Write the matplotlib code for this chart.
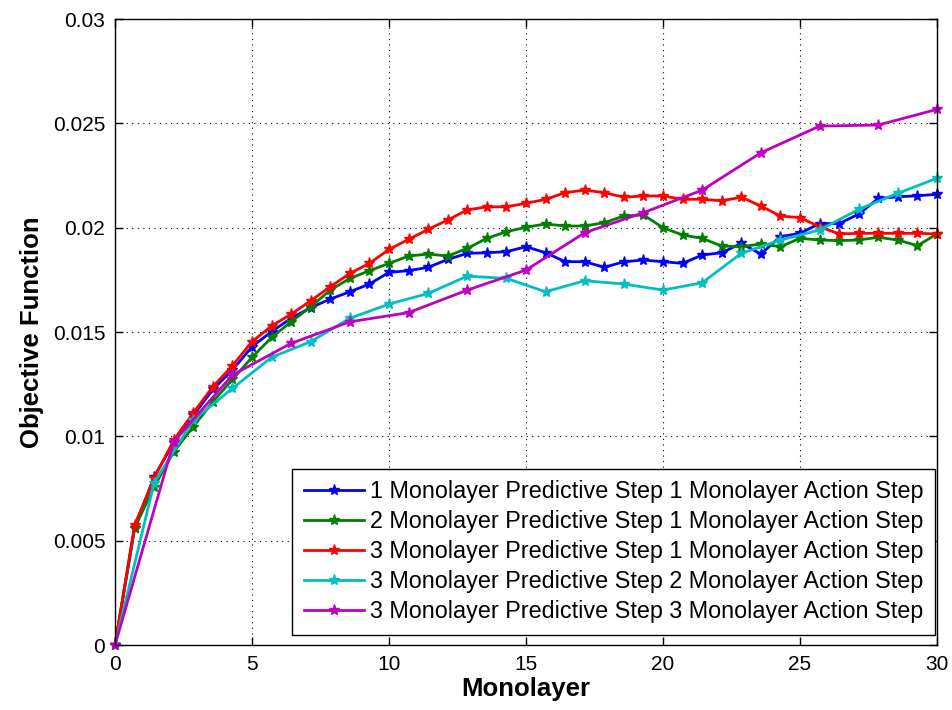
import numpy as np
import matplotlib
matplotlib.use("Agg")
import matplotlib.pyplot as plt

# ---------- DATA ----------
n_steps = 42
x_full = np.arange(0, n_steps + 1) * 30 / n_steps      # action step 1
x_two = np.arange(0, n_steps + 1, 2) * 30 / n_steps     # action step 2
x_three = np.arange(0, n_steps + 1, 3) * 30 / n_steps   # action step 3

p1_a1 = [0, 0.00559, 0.00807, 0.0097, 0.0110, 0.01225, 0.01318, 0.0143, 0.01502, 0.01566,
         0.01617, 0.01658, 0.01693, 0.0173, 0.01786, 0.01794, 0.0181, 0.01848, 0.01877, 0.0188,
         0.01885, 0.01909, 0.0188, 0.01837, 0.01837, 0.0181, 0.01837, 0.01845, 0.01837, 0.01829,
         0.01869, 0.0188, 0.01925, 0.01874, 0.01957, 0.01973, 0.0202, 0.0202, 0.02065, 0.0214,
         0.02148, 0.02153, 0.0216]
p2_a1 = [0, 0.0056, 0.00759, 0.00926, 0.01046, 0.01166, 0.01273, 0.01379, 0.01474, 0.01549,
         0.01621, 0.01701, 0.01757, 0.01794, 0.01829, 0.01864, 0.01874, 0.01864, 0.01901, 0.01949,
         0.01981, 0.02002, 0.02018, 0.02008, 0.02008, 0.02024, 0.02056, 0.02061, 0.0200, 0.01965,
         0.01949, 0.01912, 0.01909, 0.01922, 0.01909, 0.01949, 0.01941, 0.01938, 0.01941, 0.01954,
         0.01941, 0.01914, 0.0197]
p3_a1 = [0, 0.00575, 0.0080, 0.00982, 0.01113, 0.01238, 0.01339, 0.01454, 0.01529, 0.01586,
         0.0165, 0.01717, 0.01781, 0.01829, 0.01896, 0.01944, 0.01992, 0.02037, 0.02085, 0.0210,
         0.0210, 0.02117, 0.02136, 0.02168, 0.0218, 0.02168, 0.02146, 0.02152, 0.02152, 0.02136,
         0.02136, 0.02129, 0.02146, 0.02104, 0.02056, 0.02048, 0.02005, 0.0197, 0.01973, 0.01973,
         0.01973, 0.01973, 0.0197]
p3_a2 = [0, 0.00778, 0.01078, 0.0123, 0.01379, 0.01454, 0.01566, 0.01634, 0.01685, 0.01768,
         0.01757, 0.01693, 0.01746, 0.0173, 0.01701, 0.01736, 0.01877, 0.01941, 0.01989, 0.02088,
         0.02165, 0.02237]
p3_a3 = [0, 0.00974, 0.01294, 0.01446, 0.01549, 0.01593, 0.01701, 0.01797, 0.01976, 0.02072,
         0.0218, 0.02359, 0.02487, 0.02492, 0.02567]

labels = ["1 Monolayer Predictive Step 1 Monolayer Action Step",
          "2 Monolayer Predictive Step 1 Monolayer Action Step",
          "3 Monolayer Predictive Step 1 Monolayer Action Step",
          "3 Monolayer Predictive Step 2 Monolayer Action Step",
          "3 Monolayer Predictive Step 3 Monolayer Action Step"]
colors = [(0, 0, 1), (0, 0.5, 0), (1, 0, 0), (0, 0.75, 0.75), (0.75, 0, 0.75)]

# ---------- PLOT ----------
plt.rcParams['font.family'] = ['Liberation Sans', 'DejaVu Sans']

fig = plt.figure(figsize=(9.53, 7.1), dpi=100)
ax = fig.add_axes([0.1207, 0.0915, 0.8625, 0.8817])

series = [(x_full, p1_a1), (x_full, p2_a1), (x_full, p3_a1), (x_two, p3_a2), (x_three, p3_a3)]
for (xs, ys), lab, col in zip(series, labels, colors):
    ax.plot(xs, ys, color=col, lw=2, marker='*', ms=8, label=lab, clip_on=False)

ax.set_xlim(0, 30)
ax.set_ylim(0, 0.03)
ax.set_xticks(np.arange(0, 31, 5))
ax.set_yticks(np.arange(0, 0.0301, 0.005))
ax.set_yticklabels(["0", "0.005", "0.01", "0.015", "0.02", "0.025", "0.03"])
ax.tick_params(direction='in', top=True, right=True, labelsize=15, length=6, width=1, pad=7)
ax.grid(True, color='black', linestyle=(0, (1, 4)), linewidth=0.8)
for sp in ax.spines.values():
    sp.set_linewidth(1)

ax.set_xlabel("Monolayer", fontsize=18.5, fontweight='bold', labelpad=2)
ax.set_ylabel("Objective Function", fontsize=18.5, fontweight='bold', labelpad=6)

leg = ax.legend(loc='lower right', bbox_to_anchor=(0.998, 0.016), fontsize=16.8,
                fancybox=False, framealpha=1, edgecolor='black', handlelength=2.6,
                borderpad=0.5, labelspacing=0.3, handletextpad=0.25, borderaxespad=0)
leg.get_frame().set_linewidth(1)

fig.savefig("out.png", dpi=100)
